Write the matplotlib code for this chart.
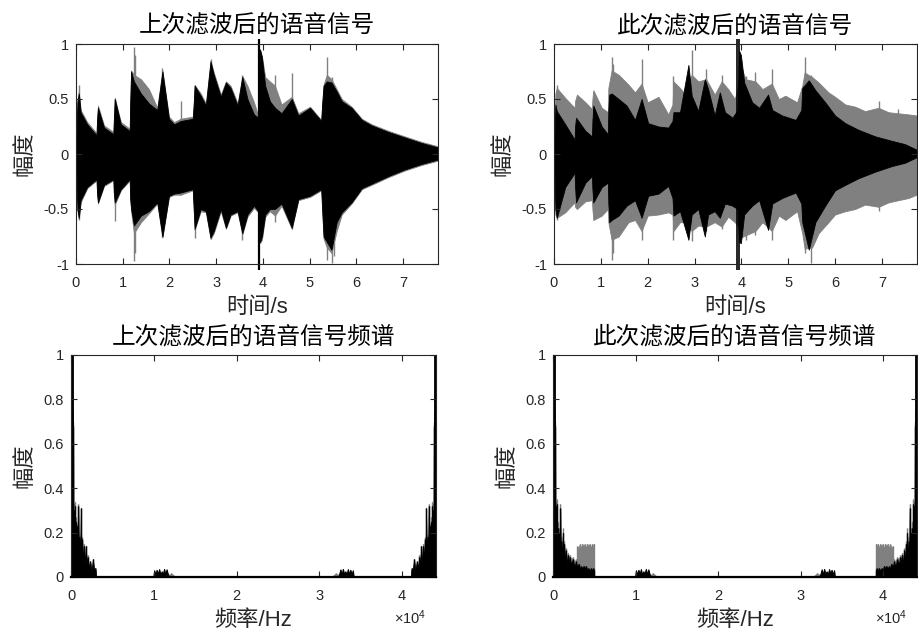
import numpy as np
import matplotlib
matplotlib.use("Agg")
import matplotlib.pyplot as plt

plt.rcParams['font.family'] = ['Liberation Sans', 'Noto Sans CJK SC']
plt.rcParams['mathtext.default'] = 'regular'

cjk = ['Noto Sans CJK SC', 'Liberation Sans']
axis_col = '#262626'
gray = '#808080'

# ---- waveform envelopes (time in s, amplitude) ----
# last filtered signal (top left)
tl_t = [0.00, 0.03, 0.06, 0.10, 0.24, 0.44, 0.45, 0.47, 0.60, 0.80,
        0.81, 0.83, 0.96, 1.15, 1.16, 1.18, 1.24, 1.39, 1.56, 1.74,
        1.85, 1.99, 2.10, 2.24, 2.50, 2.52, 2.54, 2.67, 2.78, 2.88,
        2.95, 3.10, 3.21, 3.31, 3.46, 3.56, 3.67, 3.81, 3.90, 3.92,
        3.94, 3.98, 4.05, 4.15, 4.26, 4.40, 4.62, 4.76, 5.01, 5.25,
        5.27, 5.30, 5.37, 5.47, 5.58, 5.69, 5.90, 6.12, 6.33, 6.69,
        7.04, 7.40, 7.75]
tl_black_hi = [0.00, 0.47, 0.55, 0.38, 0.27, 0.17, 0.30, 0.42, 0.24, 0.18,
               0.30, 0.50, 0.27, 0.21, 0.45, 0.75, 0.66, 0.55, 0.46, 0.40,
               0.75, 0.32, 0.27, 0.30, 0.32, 0.45, 0.62, 0.53, 0.44, 0.84,
               0.72, 0.52, 0.65, 0.60, 0.44, 0.70, 0.50, 0.36, 0.33, 0.60,
               0.95, 0.88, 0.62, 0.48, 0.42, 0.37, 0.50, 0.35, 0.42, 0.30,
               0.45, 0.62, 0.66, 0.65, 0.57, 0.48, 0.42, 0.31, 0.26, 0.20,
               0.15, 0.10, 0.06]
tl_black_lo = [0.00, -0.50, -0.58, -0.42, -0.30, -0.23, -0.35, -0.44, -0.28, -0.23,
               -0.35, -0.44, -0.32, -0.23, -0.40, -0.50, -0.65, -0.56, -0.52, -0.44,
               -0.75, -0.38, -0.36, -0.35, -0.32, -0.50, -0.68, -0.50, -0.52, -0.76,
               -0.70, -0.50, -0.67, -0.55, -0.52, -0.72, -0.55, -0.47, -0.52, -0.60,
               -0.80, -0.75, -0.55, -0.50, -0.50, -0.45, -0.67, -0.41, -0.38, -0.32,
               -0.50, -0.75, -0.80, -0.87, -0.62, -0.53, -0.44, -0.31, -0.27, -0.20,
               -0.14, -0.09, -0.05]
tl_gray_hi = [0.00, 0.49, 0.57, 0.40, 0.29, 0.19, 0.31, 0.44, 0.26, 0.20,
              0.31, 0.51, 0.29, 0.23, 0.46, 0.76, 0.72, 0.68, 0.59, 0.42,
              0.76, 0.34, 0.29, 0.32, 0.34, 0.46, 0.63, 0.55, 0.46, 0.85,
              0.74, 0.54, 0.66, 0.62, 0.46, 0.71, 0.62, 0.47, 0.35, 0.61,
              0.95, 0.89, 0.70, 0.66, 0.62, 0.45, 0.52, 0.37, 0.43, 0.31,
              0.46, 0.63, 0.72, 0.68, 0.59, 0.50, 0.43, 0.32, 0.27, 0.21,
              0.16, 0.11, 0.07]
tl_gray_lo = [0.00, -0.51, -0.59, -0.44, -0.31, -0.24, -0.36, -0.45, -0.29, -0.24,
              -0.36, -0.46, -0.33, -0.24, -0.41, -0.52, -0.72, -0.62, -0.54, -0.45,
              -0.76, -0.39, -0.37, -0.37, -0.33, -0.51, -0.69, -0.52, -0.53, -0.77,
              -0.72, -0.52, -0.68, -0.56, -0.53, -0.73, -0.57, -0.49, -0.53, -0.61,
              -0.81, -0.78, -0.57, -0.52, -0.56, -0.47, -0.68, -0.42, -0.39, -0.33,
              -0.51, -0.77, -0.85, -0.90, -0.70, -0.55, -0.45, -0.32, -0.28, -0.21,
              -0.15, -0.10, -0.06]
# thin gray hairlines sticking out of the envelope
tl_gspike_t = [0.06, 0.83, 1.24, 1.27, 1.85, 2.24, 2.54, 2.88, 3.56, 4.26,
               4.62, 5.37, 5.47, 5.52]
tl_gspike_hi = [0.63, 0.50, 0.97, 0.90, 0.78, 0.48, 0.62, 0.86, 0.72, 0.72,
                0.74, 0.88, 0.70, 0.60]
tl_gspike_lo = [-0.60, -0.61, -0.97, -0.90, -0.75, -0.37, -0.76, -0.77, -0.78, -0.62,
                -0.68, -0.96, -0.99, -0.93]

# this filtered signal (top right), black layer
tr_t = [0.00, 0.03, 0.06, 0.24, 0.44, 0.45, 0.47, 0.67, 0.81, 0.82,
        0.84, 1.02, 1.15, 1.16, 1.18, 1.23, 1.38, 1.55, 1.73, 1.87,
        2.01, 2.23, 2.44, 2.53, 2.55, 2.69, 2.87, 2.94, 3.08, 3.22,
        3.29, 3.43, 3.54, 3.65, 3.81, 3.92, 3.95, 3.99, 4.06, 4.23,
        4.38, 4.57, 4.66, 4.87, 5.16, 5.28, 5.30, 5.44, 5.58, 5.79,
        6.00, 6.22, 6.50, 6.86, 7.21, 7.49, 7.74]
tr_black_hi = [0.00, 0.45, 0.39, 0.27, 0.13, 0.25, 0.33, 0.21, 0.16, 0.30,
               0.44, 0.25, 0.18, 0.40, 0.54, 0.55, 0.50, 0.44, 0.31, 0.50,
               0.28, 0.25, 0.24, 0.30, 0.38, 0.38, 0.81, 0.53, 0.39, 0.68,
               0.59, 0.35, 0.56, 0.38, 0.33, 0.40, 0.94, 0.90, 0.65, 0.47,
               0.42, 0.54, 0.40, 0.35, 0.31, 0.40, 0.60, 0.67, 0.58, 0.47,
               0.35, 0.28, 0.22, 0.16, 0.12, 0.09, 0.04]
tr_black_lo = [0.00, -0.50, -0.58, -0.30, -0.17, -0.30, -0.44, -0.26, -0.20, -0.32,
               -0.44, -0.30, -0.26, -0.45, -0.62, -0.60, -0.56, -0.47, -0.42, -0.58,
               -0.38, -0.36, -0.29, -0.40, -0.56, -0.52, -0.78, -0.55, -0.50, -0.75,
               -0.55, -0.52, -0.58, -0.45, -0.47, -0.50, -0.80, -0.81, -0.55, -0.47,
               -0.42, -0.69, -0.45, -0.40, -0.35, -0.45, -0.62, -0.87, -0.62, -0.47,
               -0.33, -0.28, -0.22, -0.16, -0.11, -0.08, -0.03]

# top right, gray layer
trg_t = [0.00, 0.03, 0.06, 0.24, 0.44, 0.45, 0.49, 0.67, 0.81, 0.82,
         0.84, 1.02, 1.15, 1.16, 1.23, 1.38, 1.59, 1.73, 1.87, 2.00,
         2.23, 2.44, 2.53, 2.55, 2.69, 2.79, 2.94, 3.08, 3.25, 3.43,
         3.58, 3.72, 3.86, 3.92, 3.99, 4.09, 4.30, 4.45, 4.65, 4.80,
         4.94, 5.19, 5.30, 5.35, 5.51, 5.65, 5.86, 6.00, 6.22, 6.43,
         6.64, 6.93, 7.14, 7.35, 7.57, 7.74]
trg_hi = [0.00, 0.55, 0.60, 0.51, 0.42, 0.48, 0.54, 0.47, 0.41, 0.50,
          0.58, 0.42, 0.38, 0.60, 0.76, 0.72, 0.63, 0.56, 0.64, 0.47,
          0.52, 0.36, 0.45, 0.66, 0.60, 0.55, 0.72, 0.66, 0.68, 0.54,
          0.66, 0.59, 0.50, 0.60, 0.80, 0.68, 0.66, 0.59, 0.64, 0.50,
          0.53, 0.47, 0.62, 0.74, 0.70, 0.65, 0.56, 0.52, 0.45, 0.43,
          0.39, 0.42, 0.38, 0.37, 0.36, 0.35]
trg_lo = [0.00, -0.55, -0.58, -0.53, -0.44, -0.48, -0.50, -0.43, -0.42, -0.50,
          -0.60, -0.56, -0.50, -0.62, -0.78, -0.75, -0.62, -0.60, -0.70, -0.56,
          -0.55, -0.53, -0.55, -0.70, -0.62, -0.62, -0.70, -0.65, -0.66, -0.62,
          -0.66, -0.57, -0.62, -0.65, -0.76, -0.74, -0.70, -0.62, -0.70, -0.56,
          -0.60, -0.52, -0.72, -0.86, -0.85, -0.72, -0.62, -0.55, -0.52, -0.50,
          -0.46, -0.48, -0.44, -0.42, -0.40, -0.37]
trg_spike_t = [0.06, 1.23, 1.27, 1.87, 2.55, 2.94, 3.25, 3.58, 4.09, 4.30,
               4.65, 5.35, 5.48, 6.93, 7.35]
trg_spike_hi = [0.63, 0.88, 0.82, 0.86, 0.71, 0.95, 0.77, 0.72, 0.71, 0.75,
                0.77, 0.88, 0.72, 0.48, 0.41]
trg_spike_lo = [-0.60, -0.96, -0.90, -0.78, -0.78, -0.79, -0.70, -0.68, -0.78, -0.74,
                -0.78, -0.90, -0.99, -0.52, -0.42]

# single full-scale clicks
tl_click = [3.92]
tr_click = [3.91, 3.95]

# ---- spectra (normalised magnitude, lower half, mirrored about fs) ----
fs = 44100
bl_f = [0, 50, 100, 130, 170, 210, 260, 300, 350, 420, 480, 540, 600, 680,
        760, 820, 880, 950, 1020, 1100, 1200, 1260, 1350, 1450, 1550, 1650,
        1800, 1900, 2000, 2150, 2300, 2500, 2650, 2800, 2950, 3050]
bl_black = [0.0, 0.30, 1.00, 0.40, 0.75, 0.30, 0.68, 0.20, 0.30, 0.15, 0.32,
            0.12, 0.25, 0.12, 0.23, 0.10, 0.32, 0.10, 0.18, 0.08, 0.31, 0.08,
            0.17, 0.07, 0.14, 0.06, 0.14, 0.05, 0.09, 0.04, 0.07, 0.03, 0.08,
            0.03, 0.04, 0.0]
bl_gray = [0.0, 0.30, 1.00, 0.45, 0.80, 0.33, 0.70, 0.25, 0.33, 0.18, 0.34,
           0.14, 0.27, 0.13, 0.24, 0.11, 0.33, 0.11, 0.19, 0.09, 0.31, 0.09,
           0.18, 0.08, 0.15, 0.07, 0.14, 0.06, 0.10, 0.05, 0.07, 0.04, 0.08,
           0.03, 0.04, 0.0]
# cluster around 10-12 kHz
mid_f = [9950, 10050, 10200, 10350, 10500, 10650, 10800, 10950, 11100,
         11250, 11400, 11550, 11700, 11850, 12100, 12400, 12600]
mid_black = [0.0, 0.030, 0.010, 0.032, 0.012, 0.035, 0.010, 0.025, 0.012,
             0.036, 0.010, 0.034, 0.012, 0.0, 0.0, 0.0, 0.0]
mid_gray = [0.0, 0.030, 0.012, 0.032, 0.014, 0.035, 0.012, 0.026, 0.014,
            0.036, 0.012, 0.034, 0.014, 0.010, 0.018, 0.008, 0.0]

br_f = [0, 50, 100, 130, 170, 210, 260, 300, 350, 420, 480, 540, 600, 680,
        760, 820, 880, 950, 1020, 1100, 1200, 1260, 1350, 1450, 1550, 1650,
        1800, 1900, 2000, 2200, 2400, 2600, 2800, 2900, 2950, 3100, 3250,
        3400, 3550, 3700, 3850, 4000, 4150, 4300, 4450, 4600, 4750, 4900,
        4970, 5000]
br_black = [0.0, 0.30, 1.00, 0.40, 0.75, 0.30, 0.68, 0.20, 0.32, 0.14, 0.33,
            0.12, 0.22, 0.11, 0.20, 0.09, 0.31, 0.09, 0.16, 0.08, 0.20, 0.08,
            0.15, 0.07, 0.12, 0.06, 0.10, 0.06, 0.09, 0.06, 0.08, 0.05, 0.07,
            0.05, 0.05, 0.06, 0.04, 0.05, 0.04, 0.05, 0.04, 0.05, 0.03, 0.04,
            0.03, 0.04, 0.03, 0.04, 0.03, 0.0]
br_gray = [0.0, 0.30, 1.00, 0.45, 0.80, 0.33, 0.70, 0.25, 0.34, 0.18, 0.35,
           0.15, 0.25, 0.13, 0.22, 0.12, 0.33, 0.11, 0.18, 0.10, 0.22, 0.10,
           0.16, 0.09, 0.13, 0.09, 0.11, 0.08, 0.10, 0.08, 0.09, 0.07, 0.08,
           0.07, 0.14, 0.13, 0.15, 0.13, 0.15, 0.14, 0.15, 0.13, 0.15, 0.14,
           0.15, 0.13, 0.15, 0.14, 0.15, 0.0]

titles = ['上次滤波后的语音信号', '此次滤波后的语音信号',
          '上次滤波后的语音信号频谱', '此次滤波后的语音信号频谱']
ylab = '幅度'
xlab_time = '时间/s'
xlab_freq = '频率/Hz'
wave_ticks = [-1, -0.5, 0, 0.5, 1]
wave_ticklabels = ['-1', '-0.5', '0', '0.5', '1']
spec_yticks = [0, 0.2, 0.4, 0.6, 0.8, 1]
spec_yticklabels = ['0', '0.2', '0.4', '0.6', '0.8', '1']
spec_xticks = [0, 10000, 20000, 30000, 40000]
spec_xticklabels = ['0', '1', '2', '3', '4']

W, H = 918, 635
fig = plt.figure(figsize=(W / 100, H / 100), dpi=100)
ax_tl = fig.add_axes([76 / W, 1 - 264 / H, 362 / W, 220 / H])
ax_tr = fig.add_axes([554 / W, 1 - 264 / H, 363 / W, 220 / H])
ax_bl = fig.add_axes([71 / W, 1 - 577 / H, 365 / W, 222 / H])
ax_br = fig.add_axes([553 / W, 1 - 577 / H, 364 / W, 222 / H])


def style(ax, title):
    for sp in ax.spines.values():
        sp.set_color(axis_col)
        sp.set_linewidth(0.8)
        sp.set_zorder(5)
    ax.tick_params(direction='in', length=4, width=0.8, colors=axis_col,
                   top=True, right=True, labelsize=10.5, pad=5)
    ax.tick_params(axis='x', pad=8.5)
    ax.set_title(title, family=cjk, fontsize=17, color='black', pad=8,
                 fontweight='light')
    ax.set_ylabel(ylab, family=cjk, fontsize=16, color=axis_col, labelpad=6)


# waveforms
for ax, title in [(ax_tl, titles[0]), (ax_tr, titles[1])]:
    style(ax, title)
    ax.set_xlim(0, 7.75)
    ax.set_ylim(-1, 1)
    ax.set_yticks(wave_ticks)
    ax.set_yticklabels(wave_ticklabels)
    ax.set_xticks(range(8))
    ax.set_xlabel(xlab_time, fontsize=16, color=axis_col, labelpad=5)

ax_tl.vlines(tl_gspike_t, tl_gspike_lo, tl_gspike_hi, color=gray, lw=1.0, zorder=1.0)
ax_tl.fill_between(tl_t, tl_gray_lo, tl_gray_hi, color=gray, lw=0.6, zorder=1.1)
ax_tl.fill_between(tl_t, tl_black_lo, tl_black_hi, color='black', lw=0.6, zorder=1.2)
ax_tl.vlines(tl_click, -1.05, 1.05, color='black', lw=1.6, clip_on=False, zorder=3)

ax_tr.vlines(trg_spike_t, trg_spike_lo, trg_spike_hi, color=gray, lw=1.0, zorder=1.0)
ax_tr.fill_between(trg_t, trg_lo, trg_hi, color=gray, lw=0.6, zorder=1.1)
ax_tr.fill_between(tr_t, tr_black_lo, tr_black_hi, color='black', lw=0.6, zorder=1.2)
ax_tr.vlines(tr_click, -1.05, 1.05, color='black', lw=1.2, clip_on=False, zorder=3)

# spectra
spec_sets = [
    (ax_bl, titles[2], bl_f, bl_black, bl_gray),
    (ax_br, titles[3], br_f, br_black, br_gray),
]
for ax, title, f, mb, mg in spec_sets:
    style(ax, title)
    f = np.array(f)
    mf = np.array(mid_f)
    for freqs in (f, fs - f):
        ax.fill_between(freqs, 0, mg, color=gray, lw=0.5, zorder=1.0)
        ax.vlines(freqs, 0, mg, color=gray, lw=1.0, zorder=1.1)
        ax.fill_between(freqs, 0, mb, color='black', lw=0.5, zorder=1.2)
        ax.vlines(freqs, 0, mb, color='black', lw=1.0, zorder=1.3)
    for freqs in (mf, fs - mf):
        ax.fill_between(freqs, 0, mid_gray, color=gray, lw=0.5, zorder=1.0)
        ax.fill_between(freqs, 0, mid_black, color='black', lw=0.8, zorder=1.2)
    ax.vlines([100, fs - 100], 0, 1.0, color='black', lw=2.0, zorder=1.4)
    ax.plot([0, fs], [0, 0], color='black', lw=1.6, clip_on=False, zorder=6)
    ax.set_xlim(0, fs)
    ax.set_ylim(0, 1)
    ax.set_xticks(spec_xticks)
    ax.set_xticklabels(spec_xticklabels)
    ax.set_yticks(spec_yticks)
    ax.set_yticklabels(spec_yticklabels)
    ax.set_xlabel(xlab_freq, fontsize=16, color=axis_col, labelpad=5)
    ax.text(0.885, -0.185, '×10$^{4}$', transform=ax.transAxes,
            fontsize=10.5, color=axis_col, ha='left', va='center')

fig.savefig('out.png', dpi=100)
